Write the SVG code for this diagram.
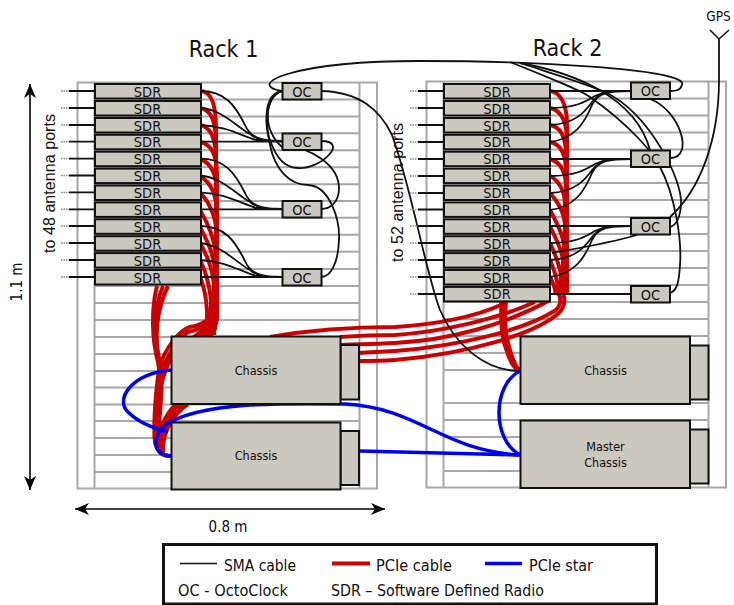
<svg xmlns="http://www.w3.org/2000/svg" width="734" height="605" viewBox="0 0 734 605">
<style>
text{font-family:"DejaVu Sans Condensed","DejaVu Sans",sans-serif;font-stretch:condensed;fill:#111}
.sdr{fill:#cbc8c0;stroke:#111;stroke-width:2}
.rail{fill:none;stroke:#a8a8a8;stroke-width:2}
.t{font-size:14.500px;text-anchor:middle}
.s{stroke:#111;stroke-width:1.800;fill:none}
.stub{stroke:#111;stroke-width:1.800}
.dot{stroke:#888;stroke-width:1.500;stroke-dasharray:1.500 1}
.r{stroke:#cc0000;stroke-width:4;fill:none}
.b{stroke:#0000f0;stroke-width:3.500;fill:none}
.dim{stroke:#000;stroke-width:1.600;fill:none;marker-start:url(#a);marker-end:url(#a)}
.ch{font-size:12.500px;text-anchor:middle}
.ll{font-family:"Liberation Sans",sans-serif;font-stretch:normal;font-size:16px}
</style>
<defs>
<marker id="a" markerWidth="16" markerHeight="12" refX="14" refY="6" orient="auto-start-reverse" markerUnits="userSpaceOnUse"><path d="M0 0L14 6L0 12L4 6Z" fill="#000"/></marker>
</defs>
<rect width="734" height="605" fill="#fff"/>
<g id="rack1">
<rect class="rail" x="77.500" y="82.500" width="299.500" height="406"/>
<path class="rail" d="M94.500 82.500V488.500M359.500 82.500V488.500M94.500 99.500H359.500M94.500 116.500H359.500M94.500 133.300H359.500M94.500 150.300H359.500M94.500 167.300H359.500M94.500 184.300H359.500M94.500 201H359.500M94.500 217.800H359.500M94.500 234.800H359.500M94.500 251.800H359.500M94.500 269H359.500M94.500 286H359.500M94.500 303H359.500M94.500 320H359.500M94.500 337H359.500M94.500 354H359.500M94.500 371H359.500M94.500 387.500H359.500M94.500 404.500H359.500M94.500 421H359.500M94.500 438H359.500M94.500 455H359.500M94.500 472H359.500"/>
</g>
<g id="rack2">
<rect class="rail" x="426.500" y="81.500" width="299.500" height="406"/>
<path class="rail" d="M443.500 81.500V487.500M708.500 81.500V487.500M443.500 98.500H708.500M443.500 115.500H708.500M443.500 132.500H708.500M443.500 149.500H708.500M443.500 166H708.500M443.500 183H708.500M443.500 200H708.500M443.500 217H708.500M443.500 234H708.500M443.500 251H708.500M443.500 268H708.500M443.500 285H708.500M443.500 302H708.500M443.500 319H708.500M443.500 336H708.500M443.500 353H708.500M443.500 370H708.500M443.500 403H708.500M443.500 420H708.500M443.500 437H708.500M443.500 454H708.500M443.500 471H708.500"/>
</g>
<g id="connectors">
<g id="pcie-cables">
<path class="r" d="M200 91C212 91 216 105 216 130V300C216 316 205 325 190 327C178 331 165 350 160 365C156 385 153 425 155 442C157 452 163 456 170 456"/>
<path class="r" d="M200 108C212 110 216 122 216 145V300C216 318 205 329 188 332C176 340 165 360 160 375C156 400 155 430 157 446"/>
<path class="r" d="M200 125C212 127 216 140 216 160V305C215 322 200 335 180 345C170 355 163 375 160 390C158 410 158 435 160 450"/>
<path class="r" d="M200 142C212 144 217 157 217 175V310C214 325 195 338 176 352"/>
<path class="r" d="M200 159C212 163 217 175 217 195V310C212 330 190 345 174 358"/>
<path class="r" d="M200 176C210 182 217 195 217 215V315C210 332 190 348 172 365"/>
<path class="r" d="M200 193C208 200 216 215 217 235V320C208 335 190 350 172 372"/>
<path class="r" d="M200 210C206 220 214 235 216 255V325"/>
<path class="r" d="M200 227C205 237 213 250 215 270V330"/>
<path class="r" d="M200 243C205 252 212 265 214 285V335"/>
<path class="r" d="M200 260C204 268 209 280 211 300V337"/>
<path class="r" d="M200 277C203 284 206 295 207 310V337"/>
<path class="r" d="M157 286C151 310 152 340 158 362C163 385 153 425 155 440C157 450 163 456 170 456"/>
<path class="r" d="M163 286C153 310 153 340 159 362C164 385 155 425 157 442"/>
<path class="r" d="M168 286C156 310 154 340 160 362C165 385 157 425 159 444"/>
<path class="r" d="M176 404C168 412 158 428 157 445M182 404C170 412 160 430 160 450M188 404C173 414 162 432 163 452"/>
<path class="r" d="M550 91C561 92 567 105 567 125V295"/>
<path class="r" d="M550 108C561 110 567 122 567 140V295"/>
<path class="r" d="M550 125C561 127 566 138 566 155V295"/>
<path class="r" d="M550 142C561 144 566 155 566 172V295"/>
<path class="r" d="M550 159C560 162 566 172 566 188V295"/>
<path class="r" d="M550 176C558 180 565 190 565 205V295"/>
<path class="r" d="M550 193C556 200 564 210 565 225V295"/>
<path class="r" d="M550 210C555 220 562 230 564 245V295"/>
<path class="r" d="M550 226C554 236 561 246 563 260V295"/>
<path class="r" d="M550 243C554 252 559 262 561 275V295"/>
<path class="r" d="M550 260C553 268 557 276 558 288V295"/>
<path class="r" d="M550 277C553 282 555 288 556 295"/>
<path class="r" d="M270 337C310 330 360 327 395 327C430 325 475 318 505 303"/>
<path class="r" d="M340 337C370 335 375 335 395 335C440 332 495 320 535 302"/>
<path class="r" d="M340 345C370 344 375 344 395 343C450 340 505 325 550 300"/>
<path class="r" d="M358 353C375 352 380 352 395 351C460 346 525 330 556 310C562 304 561 296 557 292"/>
<path class="r" d="M358 361C375 361 380 361 395 360C465 354 535 335 560 312C566 304 565 296 561 290"/>
<path class="r" style="stroke-width:5" d="M502 302C501 320 502 338 507 350C510 360 514 368 520 371"/>
<path class="r" d="M506 302C504 320 506 338 510 350C513 360 516 368 520 371"/>
</g>
<g id="sma-cables">
<path class="s" d="M200 91C225 91 235 105 245 125C250 137 260 141 282 141M200 108C222 109 238 128 250 134C257 140 265 141 282 141M200 125C225 126 240 135 256 140L282 141M200 141.700H282"/>
<path class="s" d="M200 158.600C225 158.600 235 173 245 193C250 205 260 209 282 209M200 175.500C222 177 238 196 250 202C257 208 265 209 282 209M200 192.400C225 193.500 240 203 256 208L282 209M200 209.300H282"/>
<path class="s" d="M200 226C225 226 235 241 245 261C250 273 260 277 282 277M200 243C222 245 238 264 250 270C257 276 265 277 282 277M200 260C225 261 240 271 256 276L282 277M200 277H282"/>
<path class="s" d="M282 91C262 94 265 130 270 140C275 155 283 168 298 168C320 170 350 141 321 141"/>
<path class="s" d="M282 91C264 97 266 125 270 145C275 170 290 185 308 185C330 186 340 220 339 240C338 265 330 277 321 277"/>
<path class="s" d="M282 91C264 97 262 130 282 147C310 146 340 165 339 190C338 203 330 209 321 209"/>
<path class="s" d="M321 91C360 92 380 110 392 135C412 190 425 270 440 310C455 345 485 371 520 371"/>
<path class="s" d="M282 91C245 85 290 61 420 61C520 61 690 68 682 85C680 91 675 91 670 91"/>
<path class="s" d="M520 63C570 72 635 95 650 150"/>
<path class="s" d="M520 63C560 76 590 85 607 93C650 115 683 180 681 205C680 218 677 225 670 227"/>
<path class="s" d="M510 62C550 78 580 90 590 97C630 125 655 155 660 167C675 195 682 240 680 265C679 282 677 291 670 293"/>
<path class="s" d="M650 99C680 110 695 158 670 158"/>
<path class="s" d="M719 39V80C719 140 700 190 670 217"/>
<path class="s" d="M550 91H631M550 108C575 108 585 102 595 96C605 91 615 91 631 91M550 125C575 124 585 112 592 102C600 92 610 91 631 91M550 142C575 139 585 122 592 105C598 92 610 91 631 91"/>
<path class="s" d="M550 159H631M550 176C575 176 585 170 595 164C605 159 615 159 631 159M550 193C575 192 585 180 592 170C600 160 610 159 631 159M550 210C575 207 585 190 592 173C598 160 610 159 631 159"/>
<path class="s" d="M550 226H631M550 243C575 243 585 237 595 231C605 226 615 226 631 226M550 260C575 259 585 247 592 237C600 227 610 226 631 226M550 277C575 274 585 257 592 240C598 227 610 226 631 226"/>
<path class="s" d="M550 294H631M637 235C610 243 585 247 552 253"/>
</g>
<g id="pcie-star">
<path class="b" d="M171 370C130 374 115 400 128 412C138 422 152 428 168 432"/>
<path class="b" d="M171 456C155 456 150 440 165 425C200 402 280 403 345 404C420 408 440 450 520 455"/>
<path class="b" d="M360 451L520 455"/>
<path class="b" d="M520 371C492 385 492 440 520 455"/>
</g>
<g id="antenna-stubs">
<path class="stub" d="M69 91H94M69 108H94M69 125H94M69 141.700H94M69 158.600H94M69 175.500H94M69 192.400H94M69 209.300H94M69 226H94M69 243H94M69 260H94M69 277H94"/>
<path class="dot" d="M61 91H69M61 108H69M61 125H69M61 141.700H69M61 158.600H69M61 175.500H69M61 192.400H69M61 209.300H69M61 226H69M61 243H69M61 260H69M61 277H69"/>
<path class="stub" d="M418 91H444M418 108H444M418 125H444M418 142H444M418 159H444M418 176H444M418 193H444M418 209.500H444M418 226H444M418 243H444M418 260H444M418 277H444M418 294H444"/>
<path class="dot" d="M410 91H418M410 108H418M410 125H418M410 142H418M410 159H418M410 176H418M410 193H418M410 209.500H418M410 226H418M410 243H418M410 260H418M410 277H418M410 294H418"/>
</g>
</g>
<g id="sdr-r1-1"><rect class="sdr" x="95" y="84" width="106" height="14.500"/><text class="t" x="147.500" y="96.500">SDR</text></g>
<g id="sdr-r1-2"><rect class="sdr" x="95" y="101" width="106" height="14.500"/><text class="t" x="147.500" y="113.500">SDR</text></g>
<g id="sdr-r1-3"><rect class="sdr" x="95" y="118" width="106" height="14.500"/><text class="t" x="147.500" y="130.500">SDR</text></g>
<g id="sdr-r1-4"><rect class="sdr" x="95" y="134.800" width="106" height="14.500"/><text class="t" x="147.500" y="147.300">SDR</text></g>
<g id="sdr-r1-5"><rect class="sdr" x="95" y="151.700" width="106" height="14.500"/><text class="t" x="147.500" y="164.200">SDR</text></g>
<g id="sdr-r1-6"><rect class="sdr" x="95" y="168.600" width="106" height="14.500"/><text class="t" x="147.500" y="181.100">SDR</text></g>
<g id="sdr-r1-7"><rect class="sdr" x="95" y="185.500" width="106" height="14.500"/><text class="t" x="147.500" y="198">SDR</text></g>
<g id="sdr-r1-8"><rect class="sdr" x="95" y="202.400" width="106" height="14.500"/><text class="t" x="147.500" y="214.900">SDR</text></g>
<g id="sdr-r1-9"><rect class="sdr" x="95" y="219.300" width="106" height="14.500"/><text class="t" x="147.500" y="231.800">SDR</text></g>
<g id="sdr-r1-10"><rect class="sdr" x="95" y="236.200" width="106" height="14.500"/><text class="t" x="147.500" y="248.700">SDR</text></g>
<g id="sdr-r1-11"><rect class="sdr" x="95" y="253.100" width="106" height="14.500"/><text class="t" x="147.500" y="265.600">SDR</text></g>
<g id="sdr-r1-12"><rect class="sdr" x="95" y="270" width="106" height="14.500"/><text class="t" x="147.500" y="282.500">SDR</text></g>
<g id="sdr-r2-1"><rect class="sdr" x="444" y="84" width="106" height="14.500"/><text class="t" x="497" y="96.500">SDR</text></g>
<g id="sdr-r2-2"><rect class="sdr" x="444" y="101" width="106" height="14.500"/><text class="t" x="497" y="113.500">SDR</text></g>
<g id="sdr-r2-3"><rect class="sdr" x="444" y="118" width="106" height="14.500"/><text class="t" x="497" y="130.500">SDR</text></g>
<g id="sdr-r2-4"><rect class="sdr" x="444" y="134.800" width="106" height="14.500"/><text class="t" x="497" y="147.300">SDR</text></g>
<g id="sdr-r2-5"><rect class="sdr" x="444" y="151.700" width="106" height="14.500"/><text class="t" x="497" y="164.200">SDR</text></g>
<g id="sdr-r2-6"><rect class="sdr" x="444" y="168.600" width="106" height="14.500"/><text class="t" x="497" y="181.100">SDR</text></g>
<g id="sdr-r2-7"><rect class="sdr" x="444" y="185.500" width="106" height="14.500"/><text class="t" x="497" y="198">SDR</text></g>
<g id="sdr-r2-8"><rect class="sdr" x="444" y="202.400" width="106" height="14.500"/><text class="t" x="497" y="214.900">SDR</text></g>
<g id="sdr-r2-9"><rect class="sdr" x="444" y="219.300" width="106" height="14.500"/><text class="t" x="497" y="231.800">SDR</text></g>
<g id="sdr-r2-10"><rect class="sdr" x="444" y="236.200" width="106" height="14.500"/><text class="t" x="497" y="248.700">SDR</text></g>
<g id="sdr-r2-11"><rect class="sdr" x="444" y="253.100" width="106" height="14.500"/><text class="t" x="497" y="265.600">SDR</text></g>
<g id="sdr-r2-12"><rect class="sdr" x="444" y="270" width="106" height="14.500"/><text class="t" x="497" y="282.500">SDR</text></g>
<g id="sdr-r2-13"><rect class="sdr" x="444" y="286.900" width="106" height="14.500"/><text class="t" x="497" y="299.400">SDR</text></g>
<g id="oc-r1-1"><rect class="sdr" x="282.500" y="83" width="39" height="16.500"/><text class="t" x="302" y="96.500">OC</text></g>
<g id="oc-r1-2"><rect class="sdr" x="282.500" y="133.500" width="39" height="16.500"/><text class="t" x="302" y="147">OC</text></g>
<g id="oc-r1-3"><rect class="sdr" x="282.500" y="201" width="39" height="16.500"/><text class="t" x="302" y="214.500">OC</text></g>
<g id="oc-r1-4"><rect class="sdr" x="282.500" y="269" width="39" height="16.500"/><text class="t" x="302" y="282.500">OC</text></g>
<g id="oc-r2-1"><rect class="sdr" x="631" y="82.500" width="39" height="16.500"/><text class="t" x="650.500" y="96">OC</text></g>
<g id="oc-r2-2"><rect class="sdr" x="631" y="150.500" width="39" height="16.500"/><text class="t" x="650.500" y="164">OC</text></g>
<g id="oc-r2-3"><rect class="sdr" x="631" y="218" width="39" height="16.500"/><text class="t" x="650.500" y="231.500">OC</text></g>
<g id="oc-r2-4"><rect class="sdr" x="631" y="286" width="39" height="16.500"/><text class="t" x="650.500" y="299.500">OC</text></g>
<g id="chassis-r1-1"><rect class="sdr" x="340.500" y="345" width="18.500" height="54.500"/><rect class="sdr" x="171.500" y="336.500" width="169" height="67.500"/><text class="ch" x="256" y="375">Chassis</text></g>
<g id="chassis-r1-2"><rect class="sdr" x="340.500" y="431" width="18.500" height="54"/><rect class="sdr" x="171.500" y="422.500" width="169" height="67"/><text class="ch" x="256" y="460">Chassis</text></g>
<g id="chassis-r2-1"><rect class="sdr" x="690" y="345.500" width="18.500" height="54"/><rect class="sdr" x="520.500" y="336.500" width="169.500" height="67.500"/><text class="ch" x="605.500" y="375">Chassis</text></g>
<g id="chassis-r2-2"><rect class="sdr" x="690" y="429.500" width="18.500" height="54"/><rect class="sdr" x="520.500" y="420.500" width="169.500" height="67.500"/><text class="ch" x="605.500" y="451">Master</text><text class="ch" x="605.500" y="467">Chassis</text></g>
<g id="gps"><path d="M710 30L719 39L729 30" fill="none" stroke="#111" stroke-width="1.500"/><text x="718.500" y="21" font-size="13.500" text-anchor="middle">GPS</text></g>
<text x="223.500" y="57" font-size="23" text-anchor="middle">Rack 1</text>
<text x="567.500" y="56" font-size="23" text-anchor="middle">Rack 2</text>
<text class="ll" transform="translate(55 253) rotate(-90)" textLength="139">to 48 antenna ports</text>
<text class="ll" transform="translate(403 262) rotate(-90)" textLength="139">to 52 antenna ports</text>
<text transform="translate(22 282) rotate(-90)" font-size="15" text-anchor="middle">1.1 m</text>
<text x="228" y="532" font-size="15" text-anchor="middle">0.8 m</text>
<path class="dim" d="M30 84V490"/>
<path class="dim" d="M75 509H385"/>
<g id="legend">
<rect x="163.500" y="544.500" width="493" height="59.500" fill="#fff" stroke="#111" stroke-width="3"/>
<path d="M180 563.500H217" stroke="#111" stroke-width="1.500"/>
<path d="M332 563.500H370" stroke="#cc0000" stroke-width="4"/>
<path d="M485 563.500H522" stroke="#0000f0" stroke-width="3.500"/>
<text x="224" y="570.500" font-size="15" textLength="72" lengthAdjust="spacingAndGlyphs">SMA cable</text>
<text x="376" y="570.500" font-size="15" textLength="76" lengthAdjust="spacingAndGlyphs">PCIe cable</text>
<text x="529" y="570.500" font-size="15" textLength="64" lengthAdjust="spacingAndGlyphs">PCIe star</text>
<text x="178" y="595.500" font-size="15" textLength="110" lengthAdjust="spacingAndGlyphs">OC - OctoClock</text>
<text x="331" y="595.500" font-size="15" textLength="213" lengthAdjust="spacingAndGlyphs">SDR – Software Defined Radio</text>
</g>
</svg>
